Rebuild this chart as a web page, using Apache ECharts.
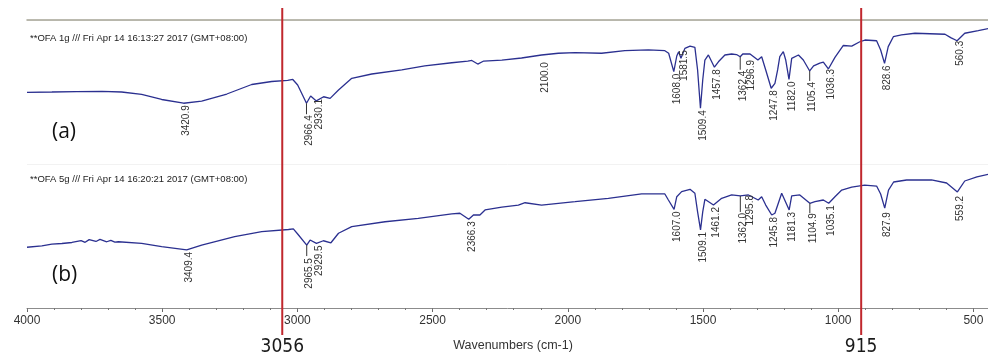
<!DOCTYPE html>
<html>
<head>
<meta charset="utf-8">
<script src="https://cdn.jsdelivr.net/npm/echarts@6/dist/echarts.min.js"></script>
<style>
  html, body { margin: 0; padding: 0; background: #fff; }
  #chart { width: 988px; height: 357px; }
</style>
</head>
<body>
<div id="chart"></div>
<script>
// spectrum (a) OFA 1g
const waveA = [4000, 3908, 3816, 3723, 3650, 3576, 3502, 3420.9, 3354, 3261, 3169, 3095, 3036, 3017, 2999,
  2966.4, 2951, 2930.1, 2903, 2879, 2848, 2799, 2725, 2614, 2529, 2429, 2370, 2355, 2333, 2311, 2244, 2171,
  2097, 2035, 1973, 1875, 1789, 1702, 1641, 1627, 1608.0, 1597, 1590, 1581.5, 1567, 1548, 1530, 1520, 1509.4,
  1501, 1493, 1480, 1457.8, 1443, 1419, 1394, 1376, 1362.4, 1353, 1326, 1296.9, 1283, 1268, 1247.8, 1234,
  1224, 1216, 1203, 1194, 1182.0, 1172, 1147, 1129, 1105.4, 1091, 1068, 1055, 1036.3, 1012, 981, 950, 920,
  901, 858, 843, 828.6, 815, 796, 766, 716, 605, 584, 560.3, 532, 482, 440];
const transA = [49.8, 50.0, 50.3, 50.4, 50.0, 48.3, 44.8, 42.2, 43.7, 48.6, 55.2, 57.3, 58.1, 58.7, 54.9,
  42.2, 47.2, 43.8, 46.7, 45.6, 51.4, 59.5, 62.5, 65.3, 68.1, 70.3, 71.5, 71.9, 69.4, 71.5, 72.2, 73.6,
  75.7, 76.9, 77.3, 76.9, 78.7, 79.2, 78.7, 76.9, 64.1, 75.0, 78.0, 73.4, 80.3, 81.9, 81.0, 65.3, 38.7,
  58.3, 72.2, 75.7, 67.2, 71.0, 75.7, 76.4, 76.0, 74.5, 76.4, 76.4, 72.2, 74.5, 65.3, 52.6, 56.0,
  65.3, 74.5, 78.0, 72.2, 58.8, 73.4, 75.7, 72.2, 64.6, 68.1, 70.1, 70.8, 66.0, 74.0, 82.3, 81.9, 84.9,
  86.1, 85.6, 79.2, 69.9, 81.5, 88.4, 89.6, 90.8, 90.1, 87.8, 85.6, 90.8, 92.6, 94.2];

// spectrum (b) OFA 5g
const waveB = [4000, 3945, 3908, 3871, 3834, 3800, 3785, 3770, 3745, 3730, 3705, 3690, 3675, 3662, 3576,
  3502, 3409.4, 3354, 3232, 3132, 3033, 3015, 2999, 2965.5, 2953, 2929.5, 2904, 2876, 2848, 2799, 2676,
  2553, 2429, 2399, 2366.3, 2349, 2325, 2306, 2244, 2183, 2158, 2097, 1973, 1850, 1727, 1641, 1628, 1607.0,
  1597, 1579, 1548, 1530, 1520, 1509.1, 1501, 1493, 1461.2, 1431, 1394, 1362.0, 1332, 1295.8, 1283, 1268,
  1245.8, 1234, 1209, 1181.3, 1172, 1142, 1104.9, 1086, 1055, 1035.1, 1012, 987, 950, 902, 858, 843, 827.9,
  814, 795, 747, 655, 599, 559.2, 532, 487, 440];
const transB = [42.2, 43.1, 44.4, 44.8, 45.5, 46.8, 45.6, 47.5, 46.2, 47.6, 46.0, 47.0, 45.8, 46.0, 44.9,
  42.6, 40.3, 43.7, 49.5, 53.0, 54.5, 54.9, 51.4, 43.7, 47.2, 44.9, 46.7, 45.3, 51.9, 56.5, 59.9,
  62.3, 65.3, 65.8, 61.6, 64.6, 64.6, 68.1, 70.1, 71.5, 73.1, 71.5, 73.8, 76.2, 79.2, 79.2, 75.0, 68.5,
  77.3, 80.8, 82.4, 79.7, 66.7, 54.2, 66.7, 75.5, 71.5, 76.2, 78.5, 77.8, 78.5, 75.0, 77.3, 71.5,
  64.6, 65.8, 79.7, 68.1, 77.8, 78.5, 72.7, 73.8, 75.0, 72.7, 77.3, 81.9, 84.0, 85.4, 84.7, 79.2, 69.4,
  81.9, 87.5, 88.9, 88.9, 86.8, 80.6, 88.2, 91.0, 93.1];

const peaksA = [3420.9, 2966.4, 2930.1, 2100.0, 1608.0, 1581.5, 1509.4, 1457.8, 1362.4, 1296.9, 1247.8,
  1182.0, 1105.4, 1036.3, 828.6, 560.3];
const peaksB = [3409.4, 2965.5, 2929.5, 2366.3, 1607.0, 1509.1, 1461.2, 1362.0, 1295.8, 1245.8, 1181.3,
  1104.9, 1035.1, 827.9, 559.2];

const majorTicks = [4000, 3500, 3000, 2500, 2000, 1500, 1000, 500];
const minorTicks = [4000, 3900, 3800, 3700, 3600, 3500, 3400, 3300, 3200, 3100, 3000, 2900, 2800, 2700,
  2600, 2500, 2400, 2300, 2200, 2100, 2000, 1900, 1800, 1700, 1600, 1500, 1400, 1300, 1200, 1100, 1000,
  900, 800, 700, 600, 500];
const markedWaves = [3056, 915];

const titleA = '**OFA 1g /// Fri Apr 14 16:13:27 2017 (GMT+08:00)';
const titleB = '**OFA 5g /// Fri Apr 14 16:20:21 2017 (GMT+08:00)';

// label placement tweaks, in px (dx: shift right, gap: below curve, tick: leader line)
const tweakA = {
  '2966.4': { tick: 11, gap: 1 },
  '2930.1': { gap: -2 },
  '2100.0': { dx: 4, gap: 7 },
  '1581.5': { gap: -8 },
  '1362.4': { tick: 13, gap: 1 },
  '1296.9': { dx: -7, gap: 0 },
  '1105.4': { tick: 10, gap: 1 },
  '1036.3': { gap: 0 },
  '560.3': { gap: 0 }
};
const tweakB = {
  '2965.5': { tick: 11, gap: 2 },
  '1362.0': { tick: 16, gap: 1 },
  '1295.8': { dx: -8, gap: -5 },
  '1104.9': { tick: 10, gap: 0 },
  '827.9': { gap: 4 },
  '559.2': { gap: 4 }
};

const lineColor = '#2b3090';
const textFont = "'Liberation Sans', Arial, sans-serif";

function valueAt(waves, vals, w) {
  for (let i = 0; i < waves.length - 1; i++) {
    if (w <= waves[i] && w >= waves[i + 1]) {
      const t = (waves[i] - w) / (waves[i] - waves[i + 1]);
      return vals[i] + t * (vals[i + 1] - vals[i]);
    }
  }
  return vals[vals.length - 1];
}

function zip(a, b) {
  return a.map((w, i) => [w, b[i]]);
}

function peakSeries(peaks, waves, vals, yIndex, tweaks) {
  return {
    type: 'custom',
    xAxisIndex: 0,
    yAxisIndex: yIndex,
    clip: false,
    silent: true,
    z: 5,
    data: peaks.map(p => [p, valueAt(waves, vals, p)]),
    renderItem(params, api) {
      const w = api.value(0);
      const pt = api.coord([w, api.value(1)]);
      const tw = Object.assign({ dx: 3, gap: 2, tick: 0 }, tweaks[w.toFixed(1)]);
      const children = [];
      if (tw.tick) {
        children.push({
          type: 'line',
          shape: { x1: pt[0], y1: pt[1], x2: pt[0], y2: pt[1] + tw.tick },
          style: { stroke: '#333', lineWidth: 1 }
        });
      }
      children.push({
        type: 'text',
        x: pt[0] + tw.dx,
        y: pt[1] + tw.tick + tw.gap,
        rotation: Math.PI / 2,
        style: {
          text: w.toFixed(1),
          fontSize: 10,
          fontFamily: textFont,
          fill: '#333',
          align: 'right',
          verticalAlign: 'middle'
        }
      });
      return { type: 'group', children };
    }
  };
}

const chart = echarts.init(document.getElementById('chart'));
chart.setOption({
  animation: false,
  backgroundColor: '#fff',
  title: [
    { text: titleA, left: 25, top: 28, textStyle: { fontSize: 9.5, fontWeight: 'normal', color: '#222', fontFamily: textFont } },
    { text: titleB, left: 25, top: 169, textStyle: { fontSize: 9.5, fontWeight: 'normal', color: '#222', fontFamily: textFont } },
    { text: '(a)', left: 47, top: 117, textStyle: { fontSize: 21, fontWeight: 'normal', color: '#111', fontFamily: "'Open Sans', sans-serif" } },
    { text: '(b)', left: 47, top: 260, textStyle: { fontSize: 21, fontWeight: 'normal', color: '#111', fontFamily: "'Open Sans', sans-serif" } }
  ],
  grid: { left: 27, right: 0, top: 20, bottom: 49 },
  xAxis: [
    {
      type: 'value',
      min: 446,
      max: 4000,
      inverse: true,
      position: 'bottom',
      name: 'Wavenumbers (cm-1)',
      nameLocation: 'middle',
      nameGap: 31,
      nameTextStyle: { fontSize: 12.5, color: '#333', fontFamily: textFont, padding: [0, 0, 0, 11] },
      axisLine: { onZero: false, lineStyle: { color: '#8c8c8c', width: 1 } },
      axisTick: { customValues: majorTicks, length: 4, lineStyle: { color: '#666' } },
      axisLabel: { customValues: majorTicks, fontSize: 12, color: '#333', margin: 7, fontFamily: textFont, formatter: v => String(v) },
      splitLine: { show: false }
    },
    {
      type: 'value',
      min: 446,
      max: 4000,
      inverse: true,
      position: 'bottom',
      axisLine: { show: false, onZero: false },
      axisTick: { customValues: minorTicks, length: 2, lineStyle: { color: '#777' } },
      axisLabel: { show: false },
      splitLine: { show: false }
    },
    {
      type: 'value',
      min: 446,
      max: 4000,
      inverse: true,
      position: 'top',
      axisLine: { onZero: false, lineStyle: { color: '#a5a495', width: 1.5 } },
      axisTick: { show: false },
      axisLabel: { show: false },
      splitLine: { show: false }
    }
  ],
  yAxis: [
    {
      type: 'value', min: -100, max: 100, interval: 100,
      axisLine: { show: false }, axisTick: { show: false }, axisLabel: { show: false },
      splitLine: { show: true, lineStyle: { color: '#f2f2f2', width: 1 } }
    },
    {
      type: 'value', min: 0, max: 200, show: false
    }
  ],
  series: [
    {
      name: 'OFA 1g',
      type: 'line',
      xAxisIndex: 0,
      yAxisIndex: 0,
      showSymbol: false,
      lineStyle: { color: lineColor, width: 1.3 },
      data: zip(waveA, transA)
    },
    {
      name: 'OFA 5g',
      type: 'line',
      xAxisIndex: 0,
      yAxisIndex: 1,
      showSymbol: false,
      lineStyle: { color: lineColor, width: 1.3 },
      data: zip(waveB, transB)
    },
    peakSeries(peaksA, waveA, transA, 0, tweakA),
    peakSeries(peaksB, waveB, transB, 1, tweakB),
    {
      type: 'custom',
      xAxisIndex: 0,
      yAxisIndex: 0,
      clip: false,
      silent: true,
      z: 10,
      data: markedWaves.map(w => [w, 0]),
      renderItem(params, api) {
        const x = api.coord([api.value(0), 0])[0];
        const cs = params.coordSys;
        return {
          type: 'group',
          children: [
            {
              type: 'line',
              shape: { x1: x, y1: cs.y - 12, x2: x, y2: cs.y + cs.height + 27 },
              style: { stroke: '#c0272d', lineWidth: 2 }
            },
            {
              type: 'text',
              x: x,
              y: cs.y + cs.height + 39,
              style: {
                text: String(api.value(0)),
                fontSize: 19,
                fontFamily: "'Liberation Sans Narrow', 'DejaVu Sans Condensed', Roboto, sans-serif",
                fill: '#1a1a1a',
                align: 'center',
                verticalAlign: 'middle'
              }
            }
          ]
        };
      }
    }
  ]
});
</script>
</body>
</html>
